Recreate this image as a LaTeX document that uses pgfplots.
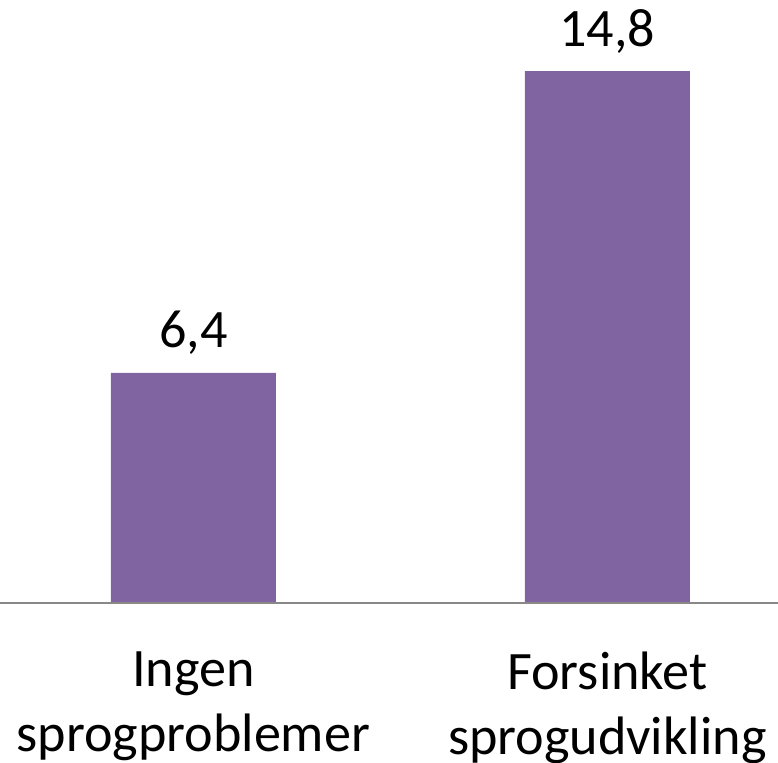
\documentclass[border=0pt]{standalone}
\usepackage{fontspec}
\setmainfont{Carlito}
\usepackage{pgfplots}
\pgfplotsset{compat=1.18}
\definecolor{barpurple}{HTML}{8064A2}
\definecolor{axisgray}{HTML}{888888}
\begin{document}
\begin{tikzpicture}
\begin{axis}[
  scale only axis,
  width=7.78cm, height=6.03cm,
  xmin=-0.467, xmax=1.412,
  ymin=0, ymax=16.78,
  axis line style={draw=none},
  axis x line*=bottom,
  hide y axis,
  ytick=\empty,
  xtick={0,1},
  xticklabels={{Ingen\\sprogproblemer},{Forsinket\\sprogudvikling}},
  major tick length=0pt,
  x tick label style={align=center, anchor=north, inner sep=0pt, yshift=-0.48cm,
    font=\fontsize{15.4}{18.5}\selectfont},
  ybar, bar width=1.65cm,
  nodes near coords,
  nodes near coords style={anchor=base, yshift=0.25cm, inner sep=0pt,
    font=\fontsize{15.4}{18.5}\selectfont, text=black},
  point meta=explicit symbolic,
  clip=false,
]
\addplot[fill=barpurple, draw=none] coordinates {(0,6.4)[6,4] (1,14.8)[14,8]};
\draw[axisgray, line width=0.7pt] (axis cs:-0.467,0) -- (axis cs:1.412,0);
\end{axis}
\pgfresetboundingbox
\useasboundingbox (0,-1.6) rectangle (7.78,6.03);
\end{tikzpicture}
\end{document}
